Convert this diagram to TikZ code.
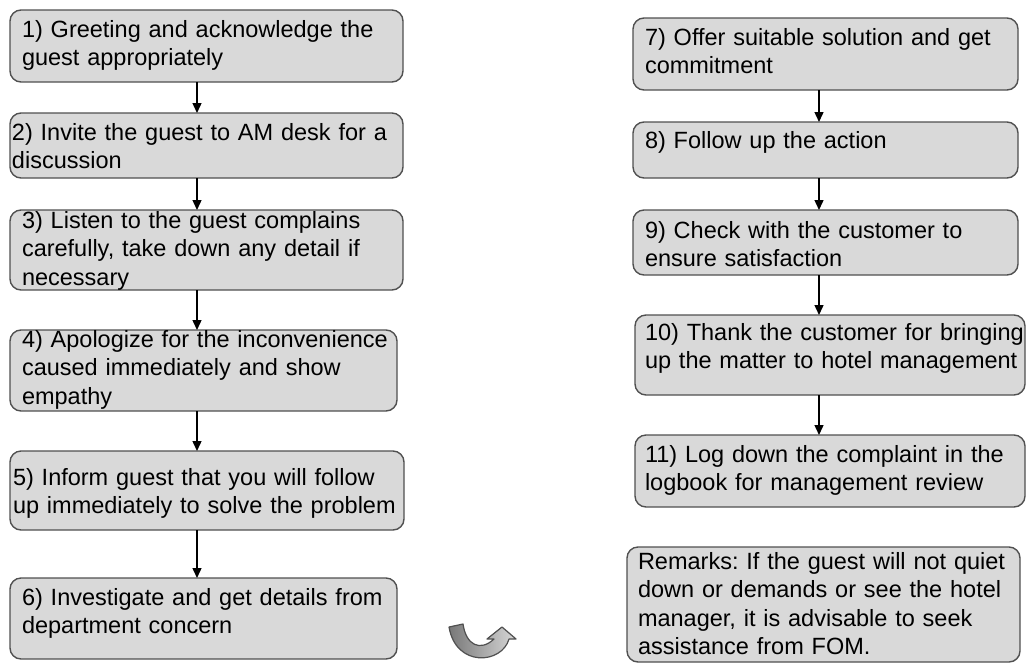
\documentclass[tikz,border=0pt]{standalone}
\usepackage{fontspec}
\setmainfont{Liberation Sans}
\usetikzlibrary{arrows.meta}
\definecolor{boxfill}{RGB}{217,217,217}
\definecolor{boxline}{RGB}{80,80,80}
\definecolor{icondark}{RGB}{120,120,120}
\definecolor{iconlight}{RGB}{215,215,215}
\newcommand\steplines[1]{\begin{tabular}[t]{@{}l@{}}#1\end{tabular}}
\frenchspacing
\begin{document}
\begin{tikzpicture}[x=1pt,y=-1pt,
  stepbox/.style={draw=boxline, line width=1.4pt, fill=boxfill, rounded corners=11pt,
    anchor=north west, inner ysep=0pt, align=left, outer sep=0pt,
    font=\fontsize{23.5}{28.5}\selectfont},
  arr/.style={-{Triangle[width=9pt,length=10pt]}, line width=1.4pt, black}]
\useasboundingbox (0,0) rectangle (1027,664);
% left column
\node[stepbox, inner xsep=12, text width=369, text height=27, text depth=45] (b1) at (10,10)
  {\steplines{1) Greeting and acknowledge the\\guest appropriately}};
\node[stepbox, inner xsep=2, text width=389, text height=27, text depth=38] (b2) at (10,113)
  {\steplines{2) Invite the guest to AM desk for a\\discussion}};
\node[stepbox, inner xsep=12, text width=369, text height=18, text depth=62] (b3) at (10,210)
  {\steplines{3) Listen to the guest complains\\carefully, take down any detail if\\necessary}};
\node[stepbox, inner xsep=12, text width=363, text height=17, text depth=64] (b4) at (10,330)
  {\steplines{4) Apologize for the inconvenience\\caused immediately and show\\empathy}};
\node[stepbox, inner xsep=3, text width=388, text height=34, text depth=45] (b5) at (10,451)
  {\steplines{5) Inform guest that you will follow\\up immediately to solve the problem}};
\node[stepbox, inner xsep=12, text width=363, text height=27, text depth=54] (b6) at (10,578)
  {\steplines{6) Investigate and get details from\\department concern}};
% right column
\node[stepbox, inner xsep=12, text width=361, text height=27, text depth=45] (b7) at (633,18)
  {\steplines{7) Offer suitable solution and get\\commitment}};
\node[stepbox, inner xsep=12, text width=361, text height=26, text depth=30] (b8) at (633,122)
  {\steplines{8) Follow up the action}};
\node[stepbox, inner xsep=12, text width=361, text height=28, text depth=37] (b9) at (633,210)
  {\steplines{9) Check with the customer to\\ensure satisfaction}};
\node[stepbox, inner xsep=10, text width=370, text height=25, text depth=55] (b10) at (635,315)
  {\steplines{10) Thank the customer for bringing\\up the matter to hotel management}};
\node[stepbox, inner xsep=10, text width=370, text height=27, text depth=45] (b11) at (635,435)
  {\steplines{11) Log down the complaint in the\\logbook for management review}};
\node[stepbox, inner xsep=11, text width=371, text height=22, text depth=93] (br) at (627,547)
  {\steplines{Remarks: If the guest will not quiet\\down or demands or see the hotel\\manager, it is advisable to seek\\assistance from FOM.}};
% connectors
\coordinate (axL) at (197,0);
\coordinate (axR) at (819,0);
\draw[arr] (b1.south -| axL) -- (b2.north -| axL);
\draw[arr] (b2.south -| axL) -- (b3.north -| axL);
\draw[arr] (b3.south -| axL) -- (b4.north -| axL);
\draw[arr] (b4.south -| axL) -- (b5.north -| axL);
\draw[arr] (b5.south -| axL) -- (b6.north -| axL);
\draw[arr] (b7.south -| axR) -- (b8.north -| axR);
\draw[arr] (b8.south -| axR) -- (b9.north -| axR);
\draw[arr] (b9.south -| axR) -- (b10.north -| axR);
\draw[arr] (b10.south -| axR) -- (b11.north -| axR);
% curved arrow icon
\draw[draw=boxline, line width=1.2pt, line join=round, left color=icondark, right color=iconlight]
  (449,627) -- (463,624) .. controls (466,645) and (480,652) .. (494,639)
  -- (487,639) -- (502,627) -- (516,639) -- (509,639)
  .. controls (502,664) and (456,668) .. (449,627) -- cycle;
\end{tikzpicture}
\end{document}
